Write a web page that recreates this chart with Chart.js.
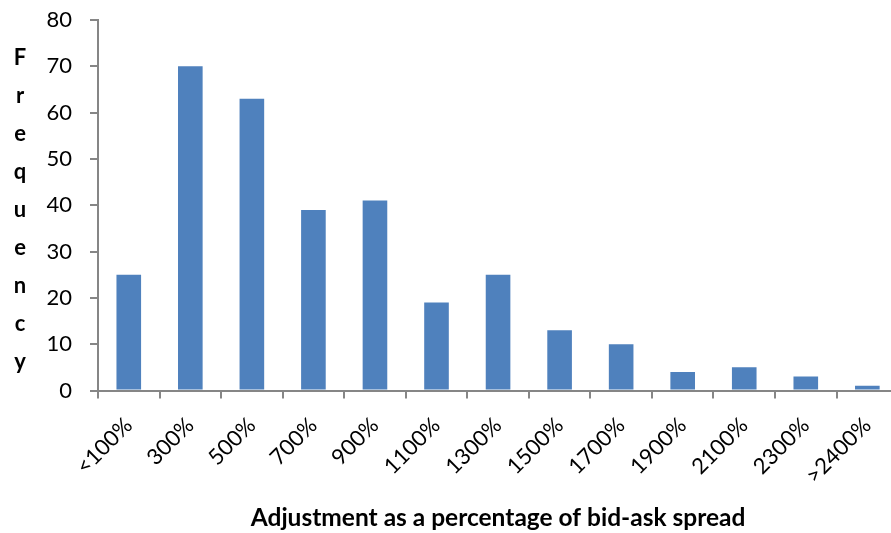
<!DOCTYPE html>
<html>
<head>
<meta charset="utf-8">
<script src="https://cdn.jsdelivr.net/npm/chart.js@4/dist/chart.umd.min.js"></script>
<style>
  html, body { margin: 0; padding: 0; background: #fff; overflow: hidden; }
  #wrap { width: 891px; height: 533px; overflow: hidden; position: relative; }
  canvas { display: block; }
</style>
</head>
<body>
<div id="wrap"><canvas id="c" width="900" height="533"></canvas></div>
<script>
// Histogram of adjustments, expressed as a percentage of the bid-ask spread
const categories = ['<100%', '300%', '500%', '700%', '900%', '1100%', '1300%',
                    '1500%', '1700%', '1900%', '2100%', '2300%', '>2400%'];
const frequency = [25, 70, 63, 39, 41, 19, 25, 13, 10, 4, 5, 3, 1];
const yTicks = [0, 10, 20, 30, 40, 50, 60, 70, 80];
const yTitle = 'Frequency';
const xTitle = 'Adjustment as a percentage of bid-ask spread';

const axisGrey = '#868686';
const family = 'Lato, "Open Sans", sans-serif';
const labelFont = { family, size: 22 };

// Vertical, letter-by-letter y axis title
const stackedTitle = {
  id: 'stackedTitle',
  afterDraw(chart) {
    const { ctx, chartArea } = chart;
    const letters = yTitle.split('');
    const step = 38;
    const mid = (chartArea.top + chartArea.bottom) / 2 + 12;
    const first = mid - step * (letters.length - 1) / 2;
    ctx.save();
    ctx.font = 'bold 22px ' + family;
    ctx.fillStyle = '#000';
    ctx.textAlign = 'center';
    ctx.textBaseline = 'alphabetic';
    letters.forEach((ch, i) => ctx.fillText(ch, 20, first + i * step));
    ctx.restore();
  }
};

new Chart(document.getElementById('c'), {
  type: 'bar',
  data: {
    labels: categories,
    datasets: [{
      data: frequency,
      backgroundColor: '#4F81BD',
      borderWidth: 0,
      barPercentage: 0.4,
      categoryPercentage: 1.0
    }]
  },
  options: {
    responsive: false,
    devicePixelRatio: 1,
    animation: false,
    layout: { padding: 0 },
    plugins: { legend: { display: false }, tooltip: { enabled: false } },
    scales: {
      x: {
        grid: { display: true, drawOnChartArea: false, drawTicks: true, tickLength: 8, color: axisGrey, lineWidth: 2, offset: true },
        border: { color: axisGrey, width: 2 },
        ticks: { color: '#000', font: labelFont, minRotation: 45, maxRotation: 45, padding: 14, autoSkip: false },
        title: { display: true, text: xTitle, color: '#000', font: { family, size: 24.5, weight: 'bold' }, padding: { top: 0, bottom: 0 } },
        afterFit(scale) { scale.height = 533 - 390.5; }
      },
      y: {
        min: 0, max: 80,
        afterBuildTicks(scale) { scale.ticks = yTicks.map(v => ({ value: v })); },
        grid: { display: true, drawOnChartArea: false, drawTicks: true, tickLength: 8, color: axisGrey, lineWidth: 2 },
        border: { color: axisGrey, width: 2 },
        ticks: { color: '#000', font: labelFont, padding: 18 },
        afterFit(scale) {
          scale.width = 98;
          scale.paddingTop = 20;
          scale.paddingBottom = 0;
        }
      }
    }
  },
  plugins: [stackedTitle]
});
</script>
</body>
</html>
